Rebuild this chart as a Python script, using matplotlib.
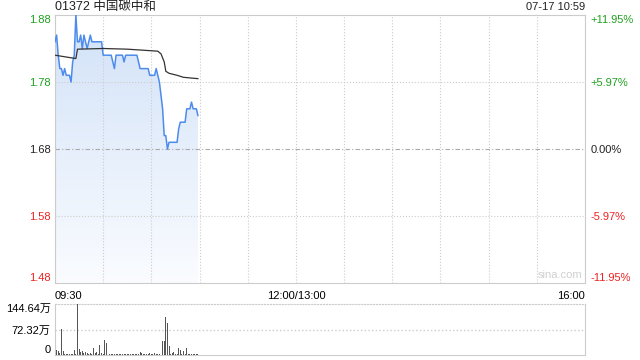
import numpy as np
import matplotlib
matplotlib.use("Agg")
import matplotlib.pyplot as plt
from matplotlib.colors import LinearSegmentedColormap

plt.rcParams['font.family'] = ['Liberation Sans', 'Noto Sans CJK SC', 'DejaVu Sans']

title = "01372 中国碳中和"
stamp = "07-17 10:59"
prev_close = 1.68
price_ticks = [1.48, 1.58, 1.68, 1.78, 1.88]
pct_labels = ["-11.95%", "-5.97%", "0.00%", "+5.97%", "+11.95%"]
time_pos = [0, 150, 330]
time_labels = ["09:30", "12:00/13:00", "16:00"]
vol_ticks = [0, 72.32, 144.64]
vol_labels = ["0", "72.32万", "144.64万"]

# minutes after 09:30 -> last price
price_min = [0, 1, 2, 3, 4, 5, 6, 7, 8, 9, 10, 11, 12, 13, 14, 15, 16, 17, 18, 19,
             20, 21, 22, 23, 29, 30, 35, 36, 37, 38, 42, 43, 44, 51, 53, 58, 59,
             62, 63, 64, 65, 66, 67, 68, 69, 70, 71, 76, 77, 78, 81, 82, 84, 85,
             86, 88, 89]
price = [1.84, 1.85, 1.82, 1.80, 1.80, 1.79, 1.80, 1.79, 1.79, 1.79, 1.78, 1.81, 1.82,
         1.88, 1.84, 1.84, 1.85, 1.83, 1.85, 1.84, 1.83, 1.84, 1.85, 1.84, 1.84,
         1.82, 1.82, 1.81, 1.80, 1.82, 1.82, 1.81, 1.82, 1.82, 1.80, 1.80, 1.79,
         1.79, 1.80, 1.79, 1.78, 1.76, 1.74, 1.70, 1.70, 1.68, 1.69, 1.69, 1.71,
         1.72, 1.72, 1.74, 1.74, 1.75, 1.74, 1.74, 1.73]

# average price line
avg_min = [0, 13, 14, 30, 45, 64, 66, 68, 69, 71, 76, 80, 89]
avg = [1.820, 1.815, 1.829, 1.830, 1.829, 1.826, 1.822, 1.810, 1.796, 1.793,
       1.790, 1.787, 1.785]

# volume per minute (万股)
vol = [90, 14, 11, 5, 73, 11, 3, 4, 3, 2, 3, 4, 15, 3, 144.64, 17, 8, 10, 7, 8,
       5, 3, 6, 4, 19, 5, 9, 3, 28, 6, 3, 42.5, 35, 3, 2, 3, 2, 2, 3, 2,
       2, 3, 2, 2, 3, 2, 2, 3, 2, 3, 2, 2, 3, 8, 5, 2, 3, 2, 3, 5,
       2, 3, 5, 2, 3, 2, 25.5, 39.7, 39.7, 108.6, 90, 25, 3, 5, 8, 3, 2, 21, 14, 4,
       11.5, 3, 20, 3, 2, 3, 2, 3, 2, 3]

green = '#1ea01e'
red = '#ee2222'
grid_c = '#cccccc'

fig = plt.figure(figsize=(6.4, 3.6), dpi=100)
ax = fig.add_axes([55/640, 1-283/360, 530/640, 268/360])
ax.set_xlim(0, 330)
ax.set_ylim(1.48, 1.88)

# gradient fill under price
cmap = LinearSegmentedColormap.from_list('fill', ['#fafcff', '#d2e2f8'])
grad = np.linspace(0, 1, 256).reshape(-1, 1)
im = ax.imshow(grad, cmap=cmap, origin='lower', aspect='auto',
               extent=[0, price_min[-1], 1.48, 1.88], zorder=1)
poly = ax.fill_between(price_min, price, 1.48, facecolor='none', edgecolor='none')
im.set_clip_path(poly.get_paths()[0], transform=ax.transData)
ax.set_xlim(0, 330)
ax.set_ylim(1.48, 1.88)

ax.plot(price_min, price, color='#4d8bec', lw=1.1, zorder=3)
ax.plot(avg_min, avg, color='#333333', lw=0.9, zorder=3)

ax.set_xticks(range(0, 331, 30), minor=True)
ax.set_xticks(time_pos)
ax.set_xticklabels(time_labels, fontsize=8)
xl = ax.get_xticklabels()
xl[0].set_ha('left')
xl[-1].set_ha('right')
ax.tick_params(axis='x', which='both', length=0, pad=6)
ax.grid(axis='x', which='both', color=grid_c, ls=':', lw=0.8)

ax.set_yticks(price_ticks)
ax.set_yticklabels(['%.2f' % p for p in price_ticks], fontsize=8)
ax.tick_params(axis='y', length=0, pad=3)
for t, p in zip(ax.get_yticklabels(), price_ticks):
    t.set_color(green if p > prev_close + 1e-9 else (red if p < prev_close - 1e-9 else '#222222'))
yl = ax.get_yticklabels()
yl[0].set_va('bottom')
yl[-1].set_va('top')
for p in [1.58, 1.78]:
    ax.axhline(p, color=grid_c, ls=':', lw=0.8, zorder=2)
ax.axhline(prev_close, color='#aaaaaa', ls=(0, (4, 2, 1, 2)), lw=0.8, zorder=2)

for s in ax.spines.values():
    s.set_color('#cccccc')
    s.set_linewidth(0.8)

ax2 = ax.twinx()
ax2.set_ylim(1.48, 1.88)
ax2.set_yticks(price_ticks)
ax2.set_yticklabels(pct_labels, fontsize=8)
ax2.tick_params(axis='y', length=0, pad=4)
for t, p in zip(ax2.get_yticklabels(), price_ticks):
    t.set_color(green if p > prev_close + 1e-9 else (red if p < prev_close - 1e-9 else '#222222'))
yr = ax2.get_yticklabels()
yr[0].set_va('bottom')
yr[-1].set_va('top')
for s in ax2.spines.values():
    s.set_visible(False)

ax.text(0.995, 0.01, 'sina.com', transform=ax.transAxes, ha='right', va='bottom',
        fontsize=8, color='#d0d0d0')
fig.text(55/640, 1-7/360, title, ha='left', va='center', fontsize=9, color='#222222')
fig.text(585/640, 1-7/360, stamp, ha='right', va='center', fontsize=8, color='#222222')

# volume panel
vx = fig.add_axes([55/640, 1-355/360, 530/640, 51/360])
vx.set_xlim(0, 330)
vx.set_ylim(0, 144.64)
vx.bar(range(len(vol)), vol, width=0.6, color='#555555', zorder=3)
vx.set_xticks([])
vx.set_yticks(vol_ticks)
vx.set_yticklabels(vol_labels, fontsize=8)
vx.tick_params(axis='y', length=0, pad=3)
vl = vx.get_yticklabels()
vl[0].set_va('bottom')
vl[-1].set_va('top')
vx.axhline(72.32, color=grid_c, ls=':', lw=1.0)
vx.spines['top'].set_linestyle(':')
for s in vx.spines.values():
    s.set_color('#cccccc')
    s.set_linewidth(0.8)

fig.savefig('out.png', dpi=100)
